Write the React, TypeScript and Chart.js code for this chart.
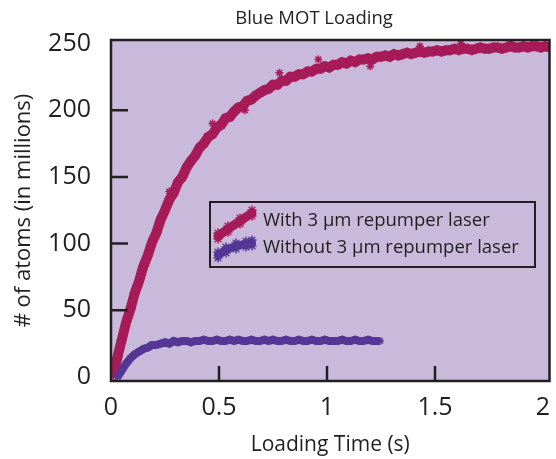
import React, { useEffect, useRef } from "react";
import { Chart, registerables } from "chart.js";
Chart.register(...registerables);

const TITLE = "Blue MOT Loading";
const X_TITLE = "Loading Time (s)";
const Y_TITLE = "# of atoms (in millions)";
const X_TICKS = [0, 0.5, 1, 1.5, 2];
const X_TICK_LABELS = ["0", "0.5", "1", "1.5", "2"];
const Y_TICKS = [0, 50, 100, 150, 200, 250];
const Y_TICK_LABELS = ["0", "50", "100", "150", "200", "250"];
const X_INNER_TICKS = [0.5, 1, 1.5];
const Y_INNER_TICKS = [50, 100, 150, 200];

const WITH_LABEL = "With 3 µm repumper laser";
const WITHOUT_LABEL = "Without 3 µm repumper laser";

const withTimes = [
  0.01, 0.03, 0.05, 0.07, 0.09, 0.11, 0.13, 0.15, 0.17, 0.19,
  0.21, 0.23, 0.25, 0.27, 0.29, 0.31, 0.33, 0.35, 0.37, 0.39,
  0.41, 0.43, 0.45, 0.47, 0.49, 0.51, 0.53, 0.55, 0.57, 0.59,
  0.61, 0.63, 0.65, 0.67, 0.69, 0.71, 0.73, 0.75, 0.77, 0.79,
  0.81, 0.83, 0.85, 0.87, 0.89, 0.91, 0.93, 0.95, 0.97, 0.99,
  1.01, 1.03, 1.05, 1.07, 1.09, 1.11, 1.13, 1.15, 1.17, 1.19,
  1.21, 1.23, 1.25, 1.27, 1.29, 1.31, 1.33, 1.35, 1.37, 1.39,
  1.41, 1.43, 1.45, 1.47, 1.49, 1.51, 1.53, 1.55, 1.57, 1.59,
  1.61, 1.63, 1.65, 1.67, 1.69, 1.71, 1.73, 1.75, 1.77, 1.79,
  1.81, 1.83, 1.85, 1.87, 1.89, 1.91, 1.93, 1.95, 1.97, 1.99,
  2.01, 2.03,
];
const withAtoms = [
  1, 15, 28, 41, 51, 63, 72, 83, 91, 101,
  108, 118, 125, 133, 138, 146, 150, 157, 162, 166,
  172, 175, 180, 182, 187, 189, 194, 195, 199, 202,
  203, 207, 208, 211, 213, 215, 216, 219, 219, 222,
  222, 225, 225, 227, 227, 229, 229, 231, 231, 233,
  232, 234, 234, 236, 235, 237, 236, 238, 238, 239,
  238, 240, 240, 241, 240, 242, 241, 242, 243, 242,
  243, 244, 243, 244, 244, 245, 244, 245, 245, 246,
  245, 246, 246, 245, 246, 247, 246, 246, 247, 247,
  246, 247, 248, 247, 247, 248, 247, 248, 248, 247,
  248, 247,
];
// a few stray stars that sit off the main band
const withStrayTimes = [0.27, 0.47, 0.62, 0.78, 0.96, 1.2, 1.43, 1.62, 1.85];
const withStrayAtoms = [139, 190, 200, 228, 238, 233, 248, 250, 251];

const withoutTimes = [
  0.03, 0.05, 0.07, 0.09, 0.11, 0.13, 0.15, 0.17, 0.19, 0.21,
  0.23, 0.25, 0.27, 0.29, 0.31, 0.33, 0.35, 0.37, 0.39, 0.41,
  0.43, 0.45, 0.47, 0.49, 0.51, 0.53, 0.55, 0.57, 0.59, 0.61,
  0.63, 0.65, 0.67, 0.69, 0.71, 0.73, 0.75, 0.77, 0.79, 0.81,
  0.83, 0.85, 0.87, 0.89, 0.91, 0.93, 0.95, 0.97, 0.99, 1.01,
  1.03, 1.05, 1.07, 1.09, 1.11, 1.13, 1.15, 1.17, 1.19, 1.21,
  1.23, 1.245,
];
const withoutAtoms = [
  0, 5, 10, 14, 17, 19, 21, 22, 24, 24,
  25, 26, 25, 27, 26, 27, 27, 26, 27, 27,
  28, 27, 27, 28, 27, 27, 28, 27, 28, 27,
  27, 28, 27, 27, 28, 27, 28, 27, 27, 28,
  27, 27, 28, 27, 27, 28, 27, 27, 28, 27,
  27, 27, 28, 27, 27, 28, 27, 27, 28, 27,
  27, 27,
];

const BG = "#c9b9da";
const RED = "#a61b58";
const PURPLE = "#553796";
const INK = "#231f20";
const FONT = "'Open Sans', 'Noto Sans', sans-serif";

function star(ctx: CanvasRenderingContext2D, x: number, y: number, r: number) {
  ctx.beginPath();
  for (let k = 0; k < 4; k++) {
    const ang = (k * Math.PI) / 4;
    const dx = Math.cos(ang) * r;
    const dy = Math.sin(ang) * r;
    ctx.moveTo(x - dx, y - dy);
    ctx.lineTo(x + dx, y + dy);
  }
  ctx.stroke();
}

function swatch(ctx: CanvasRenderingContext2D, pts: number[][], color: string, w: number) {
  ctx.save();
  ctx.strokeStyle = color;
  ctx.lineWidth = w;
  ctx.lineCap = "round";
  ctx.lineJoin = "round";
  ctx.beginPath();
  pts.forEach(([x, y], i) => (i ? ctx.lineTo(x, y) : ctx.moveTo(x, y)));
  ctx.stroke();
  ctx.lineWidth = 1.5;
  pts.forEach(([x, y]) => {
    star(ctx, x, y - 3, 4);
    star(ctx, x, y + 3, 4);
  });
  ctx.restore();
}

const decor = {
  id: "decor",
  beforeDraw(chart: any) {
    const { ctx, chartArea: a } = chart;
    ctx.save();
    ctx.fillStyle = "#ffffff";
    ctx.fillRect(0, 0, chart.width, chart.height);
    ctx.fillStyle = BG;
    ctx.fillRect(a.left, a.top, a.right - a.left, a.bottom - a.top);
    ctx.restore();
  },
  afterDatasetsDraw(chart: any) {
    const { ctx, chartArea: a, scales } = chart;
    ctx.save();
    ctx.strokeStyle = INK;
    ctx.lineWidth = 2.5;
    ctx.beginPath();
    for (const v of X_INNER_TICKS) {
      const px = scales.x.getPixelForValue(v);
      ctx.moveTo(px, a.bottom);
      ctx.lineTo(px, a.bottom - 15);
    }
    for (const v of Y_INNER_TICKS) {
      const py = scales.y.getPixelForValue(v);
      ctx.moveTo(a.left, py);
      ctx.lineTo(a.left + 17, py);
    }
    ctx.stroke();
    ctx.strokeRect(a.left, a.top, a.right - a.left, a.bottom - a.top);

    // legend
    ctx.lineWidth = 2;
    ctx.strokeRect(210, 202, 325, 65);
    swatch(ctx, [[218, 236], [228, 229], [240, 221], [252, 213]], RED, 9);
    swatch(ctx, [[218, 255], [226, 250], [236, 246], [246, 244], [252, 243]], PURPLE, 8);
    ctx.fillStyle = INK;
    ctx.font = `18.5px ${FONT}`;
    ctx.textAlign = "left";
    ctx.textBaseline = "alphabetic";
    ctx.fillText(chart.data.datasets[0].label, 263, 226);
    ctx.fillText(chart.data.datasets[1].label, 263, 253);

    // title
    ctx.font = `18.5px ${FONT}`;
    ctx.textAlign = "center";
    ctx.fillText(TITLE, 314, 24);
    ctx.restore();
  },
};

export default function App() {
  const ref = useRef<HTMLCanvasElement>(null);
  useEffect(() => {
    const chart = new Chart(ref.current!, {
      type: "scatter",
      data: {
        datasets: [
          {
            label: WITH_LABEL,
            data: withTimes.map((t, i) => ({ x: t, y: withAtoms[i] })),
            showLine: true,
            borderColor: RED,
            backgroundColor: RED,
            borderWidth: 10,
            pointStyle: "star",
            pointRadius: 5,
            pointBorderWidth: 1.5,
            pointBorderColor: RED,
            order: 1,
          },
          {
            label: WITHOUT_LABEL,
            data: withoutTimes.map((t, i) => ({ x: t, y: withoutAtoms[i] })),
            showLine: true,
            borderColor: PURPLE,
            backgroundColor: PURPLE,
            borderWidth: 8,
            pointStyle: "star",
            pointRadius: 4,
            pointBorderWidth: 1.5,
            pointBorderColor: PURPLE,
            order: 0,
          },
          {
            label: WITH_LABEL + " (stray)",
            data: withStrayTimes.map((t, i) => ({ x: t, y: withStrayAtoms[i] })),
            showLine: false,
            borderColor: RED,
            backgroundColor: RED,
            pointStyle: "star",
            pointRadius: 4,
            pointBorderWidth: 1.5,
            order: 2,
          },
        ],
      },
      options: {
        responsive: false,
        animation: false,
        devicePixelRatio: 1,
        layout: { padding: { top: 40, right: 6, left: 0, bottom: 0 } },
        plugins: {
          legend: { display: false },
          tooltip: { enabled: false },
          title: { display: false },
        },
        scales: {
          x: {
            type: "linear",
            min: 0,
            max: 2.03,
            afterBuildTicks: (axis: any) => {
              axis.ticks = X_TICKS.map((value) => ({ value }));
            },
            afterFit: (scale: any) => {
              scale.height = 78;
              scale.paddingLeft = 0;
              scale.paddingRight = 0;
            },
            grid: { display: false, drawTicks: false },
            border: { display: false },
            ticks: {
              autoSkip: false,
              maxRotation: 0,
              padding: 12,
              color: INK,
              font: { family: FONT, size: 25 },
              callback: (v: any) => X_TICK_LABELS[X_TICKS.indexOf(Number(v))] ?? "",
            },
            title: {
              display: true,
              text: X_TITLE,
              color: INK,
              font: { family: FONT, size: 21 },
              padding: { top: 2, bottom: 1 },
            },
          },
          y: {
            type: "linear",
            min: -3,
            max: 252.6,
            afterBuildTicks: (axis: any) => {
              axis.ticks = Y_TICKS.map((value) => ({ value }));
            },
            afterFit: (scale: any) => {
              scale.width = 111;
              scale.paddingTop = 0;
              scale.paddingBottom = 0;
            },
            grid: { display: false, drawTicks: false },
            border: { display: false },
            ticks: {
              autoSkip: false,
              padding: 20,
              color: INK,
              font: { family: FONT, size: 25 },
              callback: (v: any) => Y_TICK_LABELS[Y_TICKS.indexOf(Number(v))] ?? "",
            },
            title: {
              display: true,
              text: Y_TITLE,
              color: INK,
              font: { family: FONT, size: 22 },
              padding: { top: 11, bottom: 0 },
            },
          },
        },
      },
      plugins: [decor],
    });
    return () => chart.destroy();
  }, []);
  return (
    <div style={{ position: "fixed", left: 0, top: 0, width: 556, height: 459, background: "#fff" }}>
      <canvas ref={ref} width={556} height={459} style={{ display: "block", width: 556, height: 459 }} />
    </div>
  );
}
